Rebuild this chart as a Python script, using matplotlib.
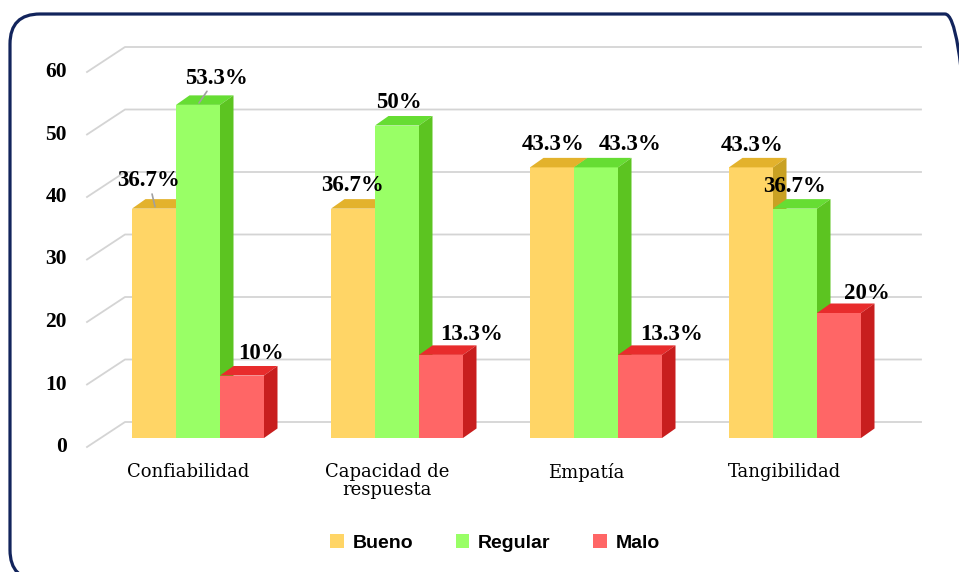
import matplotlib.pyplot as plt
from matplotlib.patches import Polygon, FancyBboxPatch
from matplotlib.transforms import IdentityTransform
import numpy as np

categories = ["Confiabilidad", "Capacidad de\nrespuesta", "Empatía", "Tangibilidad"]
series = ["Bueno", "Regular", "Malo"]
bueno = [36.7, 36.7, 43.3, 43.3]
regular = [53.3, 50.0, 43.3, 36.7]
malo = [10.0, 13.3, 13.3, 20.0]
yticks = [0, 10, 20, 30, 40, 50, 60]

values = [bueno, regular, malo]
front = ["#FFD566", "#99FF66", "#FF6666"]
top = ["#E3B22C", "#66DD33", "#E82C2C"]
side = ["#C9A123", "#5CC421", "#C81E1E"]

# label offsets from bar top (pixels), and which labels get a leader line
lab_off = [
    [(-6, 26), (-1, 21), (0, 21), (0, 20)],
    [(17, 25), (1, 21), (33, 21), (-1, 20)],
    [(18, 20), (29, 19), (30, 19), (27, 18)],
]
leader = {(0, 0), (1, 0)}

W, H = 959, 572
fig = plt.figure(figsize=(W / 100, H / 100), dpi=100)
ax = fig.add_axes([87 / W, 134 / H, 834 / W, 375 / H])
xl = ((87 - 198) / 199, (921 - 198) / 199)
ax.set_xlim(*xl)
ax.set_ylim(0, 60)
ax.axis("off")

upx = 1 / 199      # x units per pixel
upy = 1 / 6.25     # y units per pixel
bw = 44 * upx
ddx, ddy = 13.5 * upx, 9.5 * upy

# perspective gridlines
for v in yticks:
    ax.plot([xl[0], xl[0] + 38 * upx, xl[1]],
            [v - 9 * upy, v + 16 * upy, v + 16 * upy],
            color="#d4d4d4", lw=1.3, zorder=1, clip_on=False)
    ax.text(xl[0] - 20 * upx, v - 9 * upy, str(v), ha="right", va="center",
            fontsize=15.5, fontweight="bold", family="Liberation Serif")

x = np.arange(len(categories))
for i, vals in enumerate(values):
    xs = x + (i - 1) * bw
    ax.bar(xs, vals, width=bw, color=front[i], label=series[i],
           zorder=3 + i, clip_on=False)
    for xc, v in zip(xs, vals):
        x0, x1 = xc - bw / 2, xc + bw / 2
        ax.add_patch(Polygon([(x0, v), (x1, v), (x1 + ddx, v + ddy), (x0 + ddx, v + ddy)],
                             closed=True, fc=top[i], ec="none", zorder=3 + i, clip_on=False))
        ax.add_patch(Polygon([(x1, 0), (x1 + ddx, ddy), (x1 + ddx, v + ddy), (x1, v)],
                             closed=True, fc=side[i], ec="none", zorder=3 + i, clip_on=False))
    for j, (xc, v) in enumerate(zip(xs, vals)):
        txt = f"{v:g}%"
        ox, oy = lab_off[i][j]
        kw = {}
        if (i, j) in leader:
            kw["arrowprops"] = dict(arrowstyle="-", color="#a0a0a0", lw=1.2,
                                    shrinkA=0, shrinkB=0)
        ax.annotate(txt, (xc + 1 * upx, v + 0.3), xytext=(ox, oy),
                    textcoords="offset pixels", ha="center", va="center",
                    fontsize=16.5, fontweight="bold", family="Liberation Serif",
                    zorder=10, annotation_clip=False, **kw)

for xc, c in zip(x, categories):
    ax.text(xc - 10 * upx, -4.0, c, ha="center", va="top", fontsize=13,
            family="DejaVu Serif", linespacing=1.0)

fig.legend(loc="center", bbox_to_anchor=(495 / W, 1 - 543 / H), ncol=3,
           frameon=False, handlelength=0.7, handleheight=0.7,
           handletextpad=0.45, columnspacing=2.2,
           prop={"family": "Liberation Sans", "weight": "bold", "size": 14})

# rounded frame, running off the right and bottom edges
border = FancyBboxPatch((10, -8), 965, 566, boxstyle="round,pad=0,rounding_size=30",
                        transform=IdentityTransform(), fc="none", ec="#12245c", lw=2.3)
fig.patches.append(border)

fig.savefig("out.png", dpi=100)
